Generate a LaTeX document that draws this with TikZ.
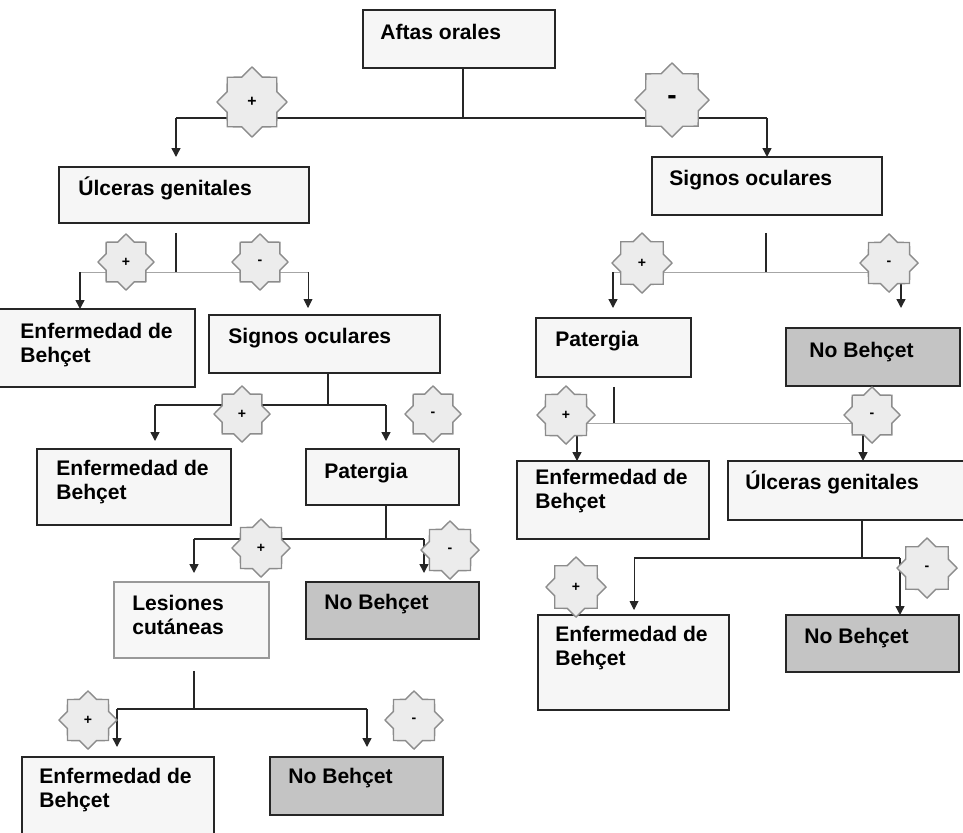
\documentclass[tikz,border=0pt]{standalone}
\usepackage{fontspec}
\setmainfont{Liberation Sans}
\usetikzlibrary{arrows.meta,shapes.geometric,calc}
\definecolor{cajaclara}{HTML}{F6F6F6}
\definecolor{cajagris}{HTML}{C4C4C4}
\definecolor{signofill}{HTML}{ECECEC}

\begin{document}
\begin{tikzpicture}[x=0.02cm,y=-0.02cm,
    caja/.style={draw=black!85, line width=1pt, fill=cajaclara, anchor=north west, inner sep=0pt, outer sep=0pt},
    cajagr/.style={caja, fill=cajagris},
    txt/.style={anchor=base west, inner sep=0pt, align=left, font=\fontsize{12}{13.4}\selectfont\bfseries},
    signo/.style={star, star points=8, star point ratio=1.3, draw=black!45, line width=0.8pt, fill=signofill, inner sep=0pt, font=\fontsize{8}{8}\selectfont\bfseries},
    rama/.style={line width=0.8pt, black!85},
    ramagris/.style={line width=0.5pt, black!35},
    flecha/.style={-{Triangle[length=5pt,width=5pt]}, black!85}]
                \useasboundingbox (0,0) rectangle (963,832);

                % cajas
                \node[caja, minimum width=3.84cm, minimum height=1.16cm] (aftas) at (363,10) {};
                \node[caja, minimum width=5cm, minimum height=1.12cm] (ulcL) at (59,167) {};
                \node[caja, minimum width=4.6cm, minimum height=1.16cm] (sigR) at (652,157) {};
                \node[caja, line width=1.4pt, minimum width=3.98cm, minimum height=1.56cm] (enfA) at (-4,309) {};
                \node[caja, minimum width=4.62cm, minimum height=1.16cm] (sigL) at (209,315) {};
                \node[caja, minimum width=3.1cm, minimum height=1.18cm] (patR) at (536,318) {};
                \node[cajagr, minimum width=3.48cm, minimum height=1.16cm] (noR1) at (786,328) {};
                \node[caja, minimum width=3.88cm, minimum height=1.52cm] (enfB) at (37,449) {};
                \node[caja, minimum width=3.06cm, minimum height=1.12cm] (patL) at (306,449) {};
                \node[caja, draw=black!40, fill=white!97!black, minimum width=3.1cm, minimum height=1.52cm] (les) at (114,582) {};
                \node[cajagr, minimum width=3.46cm, minimum height=1.14cm] (noL1) at (306,582) {};
                \node[caja, minimum width=3.84cm, minimum height=1.8cm] (enfC) at (22,757) {};
                \node[cajagr, minimum width=3.46cm, minimum height=1.16cm] (noL2) at (270,757) {};
                \node[caja, minimum width=3.84cm, minimum height=1.56cm] (enfD) at (517,461) {};
                \node[caja, minimum width=5cm, minimum height=1.18cm] (ulcR) at (728,461) {};
                \node[caja, minimum width=3.82cm, minimum height=1.9cm] (enfE) at (538,615) {};
                \node[cajagr, minimum width=3.46cm, minimum height=1.14cm] (noR2) at (786,615) {};

                % textos (dos lineas: base en la segunda linea)
                \node[txt] (aftas-t) at (380,39) {Aftas orales};
                \node[txt] (ulcL-t) at (78,195) {Úlceras genitales};
                \node[txt] (sigR-t) at (669,185) {Signos oculares};
                \node[txt] (enfA-t) at (20,362) {Enfermedad de\\Behçet};
                \node[txt] (sigL-t) at (228,343) {Signos oculares};
                \node[txt] (patR-t) at (555,346) {Patergia};
                \node[txt] (noR1-t) at (809,357) {No Behçet};
                \node[txt] (enfB-t) at (56,499) {Enfermedad de\\Behçet};
                \node[txt] (patL-t) at (324,478) {Patergia};
                \node[txt] (les-t) at (132,634) {Lesiones\\cutáneas};
                \node[txt] (noL1-t) at (324,609) {No Behçet};
                \node[txt] (enfC-t) at (39,807) {Enfermedad de\\Behçet};
                \node[txt] (noL2-t) at (288,783) {No Behçet};
                \node[txt] (enfD-t) at (535,508) {Enfermedad de\\Behçet};
                \node[txt] (ulcR-t) at (745,489) {Úlceras genitales};
                \node[txt] (enfE-t) at (555,665) {Enfermedad de\\Behçet};
                \node[txt] (noR2-t) at (804,643) {No Behçet};

                % puntos de rama
                \coordinate (s0) at (463,118); \coordinate (s0l) at (176,118); \coordinate (s0r) at (767,118);
                \coordinate (s1) at (176,272); \coordinate (s1l) at (80,272);  \coordinate (s1r) at (308,272);
                \coordinate (s2) at (766,272); \coordinate (s2l) at (613,272); \coordinate (s2r) at (901,272);
                \coordinate (s3) at (328,405); \coordinate (s3l) at (155,405); \coordinate (s3r) at (386,405);
                \coordinate (s4) at (614,423); \coordinate (s4l) at (577,423); \coordinate (s4r) at (863,423);
                \coordinate (s5) at (386,539); \coordinate (s5l) at (194,539); \coordinate (s5r) at (424,539);
                \coordinate (s6) at (862,558); \coordinate (s6l) at (634,558); \coordinate (s6r) at (900,558);
                \coordinate (s7) at (194,709); \coordinate (s7l) at (117,709); \coordinate (s7r) at (367,709);

                % Aftas orales
                \draw[rama] (aftas.south -| s0) -- (s0);
                \draw[rama] (s0l) -- (s0r);
                \draw[rama,flecha] (s0l) -- ($(s0l |- ulcL.north)+(0,-10)$);
                \draw[rama,flecha] (s0r) -- (s0r |- sigR.north);

                % Ulceras genitales (izq.)
                \draw[rama] ($(ulcL.south -| s1)+(0,10)$) -- (s1);
                \draw[ramagris] (s1l) -- (s1r);
                \draw[rama,flecha] (s1l) -- (s1l |- enfA.north);
                \draw[ramagris,flecha] (s1r) -- ($(s1r |- sigL.north)+(0,-7)$);

                % Signos oculares (der.)
                \draw[rama] ($(sigR.south -| s2)+(0,18)$) -- (s2);
                \draw[ramagris] (s2l) -- (s2r);
                \draw[rama,flecha] (s2l) -- ($(s2l |- patR.north)+(0,-10)$);
                \draw[rama,flecha] (s2r) -- ($(s2r |- noR1.north)+(0,-20)$);

                % Signos oculares (izq.)
                \draw[rama] (sigL.south -| s3) -- (s3);
                \draw[rama] (s3l) -- (s3r);
                \draw[rama,flecha] (s3l) -- ($(s3l |- enfB.north)+(0,-8)$);
                \draw[rama,flecha] (s3r) -- ($(s3r |- patL.north)+(0,-8)$);

                % Patergia (der.)
                \draw[rama] ($(patR.south -| s4)+(0,10)$) -- (s4);
                \draw[ramagris] (s4l) -- (s4r);
                \draw[rama,flecha] (s4l) -- (s4l |- enfD.north);
                \draw[rama,flecha] (s4r) -- (s4r |- ulcR.north);

                % Patergia (izq.)
                \draw[rama] (patL.south -| s5) -- (s5);
                \draw[rama, line width=1.4pt] (s5l) -- (s5r);
                \draw[rama,flecha] (s5l) -- ($(s5l |- les.north)+(0,-9)$);
                \draw[rama,flecha] (s5r) -- ($(s5r |- noL1.north)+(0,-9)$);

                % Ulceras genitales (der.)
                \draw[rama] (ulcR.south -| s6) -- (s6);
                \draw[rama] (s6l) -- (s6r);
                \draw[ramagris,flecha] (s6l) -- ($(s6l |- enfE.north)+(0,-5)$);
                \draw[rama,flecha] (s6r) -- (s6r |- noR2.north);

                % Lesiones cutaneas
                \draw[rama] ($(les.south -| s7)+(0,13)$) -- (s7);
                \draw[rama] (s7l) -- (s7r);
                \draw[rama,flecha] (s7l) -- ($(s7l |- enfC.north)+(0,-10)$);
                \draw[rama,flecha] (s7r) -- ($(s7r |- noL2.north)+(0,-10)$);

                % signos + / -
                \node[signo, minimum size=1.4cm, font=\fontsize{9}{9}\selectfont\bfseries] (mas0) at (252,102) {+};
                \node[signo, minimum size=1.48cm, font=\fontsize{16}{16}\selectfont\bfseries] (menos0) at (672,100) {-};
                \node[signo, minimum size=1.12cm] (mas1) at (126,262) {+};
                \node[signo, minimum size=1.12cm] (menos1) at (260,262) {-};
                \node[signo, minimum size=1.2cm] (mas2) at (642,263) {+};
                \node[signo, minimum size=1.16cm] (menos2) at (889,263) {-};
                \node[signo, minimum size=1.12cm] (mas3) at (242,414) {+};
                \node[signo, minimum size=1.12cm] (menos3) at (433,414) {-};
                \node[signo, minimum size=1.16cm] (mas4) at (566,415) {+};
                \node[signo, minimum size=1.12cm] (menos4) at (872,415) {-};
                \node[signo, minimum size=1.16cm] (mas5) at (261,548) {+};
                \node[signo, minimum size=1.16cm] (menos5) at (450,550) {-};
                \node[signo, minimum size=1.2cm] (mas6) at (576,587) {+};
                \node[signo, minimum size=1.2cm] (menos6) at (927,568) {-};
                \node[signo, minimum size=1.16cm] (mas7) at (88,720) {+};
                \node[signo, minimum size=1.16cm] (menos7) at (414,720) {-};

            \end{tikzpicture}
\end{document}
